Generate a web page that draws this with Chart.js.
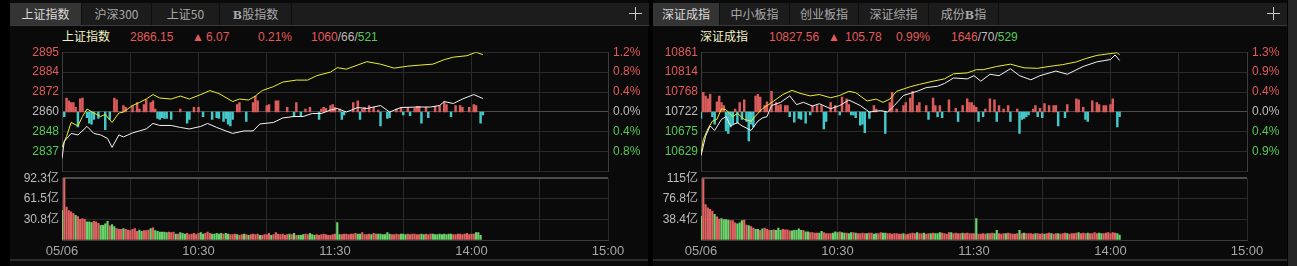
<!DOCTYPE html>
<html>
<head>
<meta charset="utf-8">
<script src="https://cdn.jsdelivr.net/npm/chart.js@4.4.1/dist/chart.umd.min.js"></script>
<style>
  body { margin: 0; width: 1297px; height: 266px; background: #000; overflow: hidden; position: relative;
         font-family: 'Liberation Sans', 'Noto Sans CJK SC', sans-serif; }
  .panel { position: absolute; top: 0; height: 266px; background: #0a0a0a; }
  .tabbar { position: absolute; top: 3px; height: 22px; background: #1c1c1c; border-bottom: 1px solid #3a3a3a; }
  .tab { position: absolute; top: 3px; height: 22px; line-height: 22px; text-align: center; color: #a9a9a9;
         font-size: 12px; font-family: 'Noto Sans CJK SC', sans-serif; border-right: 1px solid #0f0f0f; box-sizing: border-box; }
  .tab.on { background: #343434; color: #dadada; }
  .tab b { font-family: 'DejaVu Serif', serif; font-size: 11px; }
  .plus-h, .plus-v { position: absolute; background: #c8c8c8; }
  .hd { position: absolute; top: 30px; font-size: 12px; line-height: 14px; white-space: pre; }
  .bottomline { position: absolute; top: 259px; height: 2px; background: #2c2c2c; }
  canvas { position: absolute; }
</style>
</head>
<body>
<script>
// ---- shared time axis (minutes after 09:30, lunch removed) ----
const xTickMins = [0, 30, 60, 90, 120, 150, 180, 210, 240];
const xTickLabels = ['05/06', '', '10:30', '', '11:30', '', '14:00', '', '15:00'];

// ---- 上证指数 ----
const shTabs = ['上证指数', '沪深300', '上证50', 'B股指数'];
const shPctTicks = [1.2, 0.8, 0.4, 0, -0.4, -0.8, -1.2];
const shPriceLabels = ['2895', '2884', '2872', '2860', '2848', '2837', ''];
const shPctLabels = ['1.2%', '0.8%', '0.4%', '0.0%', '0.4%', '0.8%', ''];
const shVolTicks = [92.3, 61.5, 30.8, 0];
const shVolLabels = ['92.3亿', '61.5亿', '30.8亿', ''];
const shWhiteMin = [0,1,4,7,11,14,17,20,22,25,27,31,34,37,40,43,48,52,56,61,64,68,72,75,80,84,87,93,97,102,106,110,114,118,121,125,130,134,140,144,149,156,162,166,168,172,176,181,185];
const shWhitePct = [-0.93,-0.59,-0.43,-0.46,-0.29,-0.43,-0.46,-0.53,-0.71,-0.46,-0.50,-0.42,-0.38,-0.34,-0.23,-0.27,-0.27,-0.31,-0.34,-0.29,-0.23,-0.31,-0.38,-0.43,-0.38,-0.38,-0.24,-0.21,-0.12,-0.09,-0.09,-0.03,-0.03,0.04,0.07,0.00,0.09,0.07,0.13,0.00,0.09,0.10,0.10,0.13,0.21,0.17,0.26,0.35,0.27];
const shYellowMin = [0,2,4,7,9,11,14,17,19,22,25,27,31,34,37,40,43,48,52,56,61,65,69,75,78,82,85,88,93,97,103,108,112,118,121,125,131,134,140,146,152,157,163,168,172,178,182,185];
const shYellowPct = [-0.71,-0.49,-0.21,-0.28,-0.09,0.06,-0.02,-0.09,-0.05,-0.21,-0.02,0.00,0.13,0.19,0.26,0.35,0.28,0.26,0.32,0.26,0.35,0.43,0.37,0.21,0.26,0.24,0.32,0.43,0.51,0.60,0.64,0.64,0.73,0.80,0.89,0.86,0.96,1.01,0.96,0.88,0.92,0.94,0.96,1.05,1.10,1.13,1.20,1.15];
const shFlowMin = [1,2,3,4,5,6,7,8,9,11,12,13,14,16,19,21,23,24,27,28,31,33,34,36,37,39,40,41,42,43,44,45,46,48,52,55,56,58,60,62,66,68,69,71,72,73,74,75,77,78,81,84,85,86,90,91,94,95,99,102,103,105,107,109,113,114,115,116,118,119,120,122,123,124,128,130,131,132,133,135,137,139,140,143,144,147,149,150,152,153,155,156,157,158,160,161,164,166,168,169,171,173,175,176,179,181,182,184,185];
const shFlowVal = [-5,15,12,10,10,5,-16,14,15,-6,-12,-13,-8,-7,-19,-8,15,13,7,5,7,10,3,8,13,10,12,3,-7,-8,-6,-7,-7,-8,3,-12,-8,5,5,-5,-8,-6,-7,-10,-7,-13,-15,-8,8,10,-10,10,17,12,7,8,12,12,5,-5,10,-5,3,5,-8,3,5,4,7,8,5,3,-8,-3,10,12,-8,3,5,7,5,2,-15,-7,-6,3,5,-3,5,-4,4,6,6,-12,5,-6,6,7,11,8,-5,7,7,5,5,8,7,-12,-3];
const shVol = [44,92,49,44,42,40,37,35,31,32, 31,27,27,26,28,27,25,22,22,24, 28,21,23,20,17,16,16,17,16,15,
  14,16,17,13,15,13,14,14,15,17, 18,14,13,12,12,12,11,12,11,12, 9,9,11,10,9,10,8,9,10,8,
  10,11,9,10,12,10,9,9,10,9, 10,9,10,9,8,8,9,8,7,8, 9,8,7,8,9,8,9,7,7,8,
  8,10,7,8,11,9,8,9,7,8, 9,8,10,7,7,7,8,9,8,10, 8,7,8,7,8,9,8,7,7,8,
  9,26,8,8,9,9,8,9,9,10, 9,9,11,8,8,9,8,10,9,9, 9,8,8,11,9,8,8,9,8,9,
  9,8,9,8,9,9,8,8,9,8, 9,8,9,9,8,8,9,8,9,8, 9,9,8,8,9,9,8,9,10,8, 9,9,11,11,7];
const shVolDir = 'duuuuuduuu' + 'uddduuuddd' + 'dudduuuduu' + 'uuuudduuud' + 'udddddduuu' +
  'duddduuuuu' + 'udduuudddd' + 'dudduuuduu' + 'duduuuuduu' + 'uuduuuuuuu' + 'dududdduud' +
  'dduuuuuuuu' + 'udduuuuuuu' + 'dduuuuduud' + 'ddddduuuud' + 'dduuuuuudd' + 'uuuddddddd' +
  'dduuuuuuuu' + 'uuddd';

// ---- 深证成指 ----
const szTabs = ['深证成指', '中小板指', '创业板指', '深证综指', '成份B指'];
const szPctTicks = [1.3, 0.8667, 0.4333, 0, -0.4333, -0.8667, -1.3];
const szPriceLabels = ['10861', '10814', '10768', '10722', '10675', '10629', ''];
const szPctLabels = ['1.3%', '0.9%', '0.4%', '0.0%', '0.4%', '0.9%', ''];
const szVolTicks = [115.2, 76.8, 38.4, 0];
const szVolLabels = ['115亿', '76.8亿', '38.4亿', ''];
const szWhiteMin = [0,2,4,6,9,11,13,16,18,22,25,27,29,31,35,39,42,45,49,52,57,61,65,70,74,79,82,85,89,95,99,104,107,111,117,120,123,127,131,136,140,145,149,156,161,168,174,180,182,184];
const szWhitePct = [-0.95,-0.53,-0.30,-0.40,-0.16,-0.10,-0.30,-0.23,-0.30,-0.40,-0.20,-0.13,-0.10,0.14,0.21,0.35,0.16,0.21,0.13,0.18,0.07,0.14,0.26,0.14,0.00,0.03,0.00,0.14,0.36,0.45,0.53,0.56,0.62,0.74,0.72,0.79,0.67,0.82,0.79,0.94,0.79,0.70,0.79,0.89,0.82,0.99,1.09,1.14,1.24,1.12];
const szYellowMin = [0,1,3,5,7,9,11,14,16,19,22,25,27,32,36,40,44,48,52,57,61,65,68,73,77,80,83,86,92,96,102,107,111,117,121,124,130,136,142,148,153,159,165,169,174,180,183,184];
const szYellowPct = [-0.91,-0.60,-0.37,-0.20,-0.16,0.07,0.05,-0.10,-0.03,-0.16,-0.20,-0.03,0.07,0.24,0.38,0.47,0.40,0.35,0.38,0.31,0.36,0.45,0.42,0.24,0.28,0.21,0.28,0.45,0.55,0.60,0.67,0.72,0.83,0.85,0.92,0.92,0.99,1.04,0.96,0.95,0.99,1.03,1.09,1.16,1.23,1.27,1.29,1.24];
const szFlowMin = [0,1,2,3,4,5,6,7,8,9,10,11,12,13,14,15,16,17,18,19,20,21,22,23,24,25,26,28,29,31,33,34,35,37,38,39,41,43,44,46,48,49,51,53,54,55,57,59,61,62,64,65,66,67,68,70,71,72,74,76,77,81,83,84,86,89,90,92,93,95,96,99,100,102,103,104,105,106,109,112,113,115,117,118,119,120,121,122,124,125,127,129,130,131,133,135,136,139,140,141,142,143,144,146,147,148,149,150,151,153,155,156,157,160,161,165,166,168,169,170,172,174,175,177,178,180,181,183,184];
const szFlowVal = [-7,21,17,14,19,-5,-13,11,17,10,7,-20,-23,-16,-13,3,-12,10,-8,13,-10,-31,-13,-16,17,19,16,7,11,22,10,7,8,7,7,-5,-11,-7,-8,-12,-3,7,7,7,-18,-10,10,7,-3,16,14,8,-3,-3,-6,-14,-13,-22,-7,7,3,-23,10,21,3,7,10,15,22,7,10,7,-8,15,7,-5,7,-6,13,4,-10,7,14,10,10,7,5,-10,-5,3,14,13,-10,7,3,7,-10,3,-23,-8,-7,-5,-3,3,7,-5,4,-6,9,7,7,7,-15,-6,8,14,13,5,-8,-10,12,10,8,7,7,8,14,-16,-5];
const szVol = [44,114,66,60,57,54,48,43,39,40, 38,38,37,36,36,32,30,32,36,37, 28,27,25,22,20,20,18,21,22,20,
  18,18,19,18,22,18,20,19,19,17, 17,18,18,21,18,18,15,15,14,14, 13,13,13,16,14,12,12,12,13,15,
  14,15,14,13,13,12,14,14,13,12, 12,13,12,12,13,13,11,12,12,14, 13,13,12,12,11,12,12,11,11,12,
  10,11,12,13,12,14,12,12,13,11, 12,12,13,12,12,14,13,12,11,14, 14,12,13,12,12,13,12,13,12,12,
  12,40,11,11,12,11,12,12,13,12, 18,12,11,12,12,13,12,11,11,12, 18,12,13,12,12,12,11,12,12,11,
  12,11,12,13,12,11,12,12,11,12, 13,12,11,12,12,13,14,12,13,12, 13,12,12,14,12,13,12,12,13,14, 12,14,13,12,9];
const szVolDir = 'duuuuuduud' + 'ddduuudddu' + 'uduudduduu' + 'ududdduuuu' + 'dddddudduu' +
  'uudduuuudd' + 'dudduddudu' + 'uuuduudduu' + 'dduuuuuuud' + 'uuuuuduudu' + 'ududdduuuu' +
  'duuuuduuuu' + 'uduuuuduud' + 'duuuduuuuu' + 'duduuuuduu' + 'uduuduuduu' + 'uduuuuduuu' +
  'duuuudduuu' + 'uuudd';

// ---- colours ----
const RED_TXT = '#e25a5a', GREEN_TXT = '#55c955', GRAY_TXT = '#bdbdbd', X_TXT = '#a6a6a6';
const GRID = '#2a2a2a', AXIS = '#3c3c3c', ZERO = '#4c4c4c';
const FLOW_UP = '#dc5c5c', FLOW_DN = '#43c9c9', VOL_UP = '#e06262', VOL_DN = '#6bd56b';
const WHITE = '#f2f2f2', YELLOW = '#eeee2c';
const FONT = { family: "'Liberation Sans', 'Noto Sans CJK SC', sans-serif", size: 12 };

const PLOT_W = 546;

function el(tag, cls, css, html) {
  const e = document.createElement(tag);
  if (cls) e.className = cls;
  Object.assign(e.style, css);
  if (html != null) e.innerHTML = html;
  document.body.appendChild(e);
  return e;
}

function tabsRow(names, edges, plusX) {
  el('div', 'tabbar', { left: edges[0] + 'px', width: (plusX + 14 - edges[0]) + 'px' });
  names.forEach((n, i) => {
    el('div', 'tab' + (i === 0 ? ' on' : ''),
      { left: edges[i] + 'px', width: (edges[i + 1] - edges[i]) + 'px' },
      n.replace('B', '<b>B</b>'));
  });
  el('div', 'plus-h', { left: (plusX - 6) + 'px', top: '13px', width: '13px', height: '1px' });
  el('div', 'plus-v', { left: plusX + 'px', top: '7px', width: '1px', height: '13px' });
}

function header(items) {
  items.forEach(([x, txt, col]) => el('div', 'hd', { left: x + 'px', color: col }, txt));
}

function tickMap(vals, labels) {
  return new Map(vals.map((v, i) => [v, labels[i]]));
}

function pctColor(ctx) {
  const v = ctx.tick.value;
  return v > 0 ? RED_TXT : v < 0 ? GREEN_TXT : GRAY_TXT;
}

function buildPanel(p) {
  const W = p.axisW + PLOT_W + 40;
  const span = p.pctTicks[0];
  const priceLab = tickMap(p.pctTicks, p.priceLabels);
  const pctLab = tickMap(p.pctTicks, p.pctLabels);
  const volLab = tickMap(p.volTicks, p.volLabels);
  const xLab = tickMap(xTickMins, xTickLabels);
  const setTicks = (vals) => (s) => { s.ticks = vals.map((v) => ({ value: v })); };

  // price + flow bars
  const c1 = el('canvas', null, { left: p.left + 'px', top: '40px' });
  c1.width = W; c1.height = 144;
  new Chart(c1, {
    type: 'line',
    data: {
      datasets: [
        { data: p.whiteMin.map((m, i) => ({ x: m, y: p.whitePct[i] })), borderColor: WHITE,
          borderWidth: 1, pointRadius: 0, tension: 0, yAxisID: 'y', order: 0 },
        { data: p.yellowMin.map((m, i) => ({ x: m, y: p.yellowPct[i] })), borderColor: YELLOW,
          borderWidth: 1, pointRadius: 0, tension: 0, yAxisID: 'y', order: 1 },
        { type: 'bar', data: p.flowMin.map((m, i) => ({ x: m, y: p.flowVal[i] })),
          backgroundColor: p.flowVal.map((v) => (v >= 0 ? FLOW_UP : FLOW_DN)),
          barThickness: 1.8, yAxisID: 'yf', order: 2 },
      ],
    },
    options: {
      responsive: false, animation: false, events: [],
      layout: { padding: { top: 8, bottom: 8, left: 0, right: 0 } },
      plugins: { legend: { display: false }, tooltip: { enabled: false } },
      scales: {
        x: { type: 'linear', min: 0, max: 240, offset: false, afterBuildTicks: setTicks(xTickMins),
             afterFit: (s) => { s.height = 0; },
             ticks: { display: false }, grid: { color: GRID, drawTicks: false, offset: false },
             border: { display: false } },
        y: { position: 'left', min: -span, max: span, afterBuildTicks: setTicks(p.pctTicks),
             afterFit: (s) => { s.width = p.axisW; },
             ticks: { color: pctColor, font: FONT, padding: 3, callback: (v) => priceLab.get(v) },
             grid: { color: (c) => (c.tick.value === 0 ? ZERO : GRID), drawTicks: false },
             border: { color: AXIS } },
        yr: { position: 'right', min: -span, max: span, afterBuildTicks: setTicks(p.pctTicks),
              afterFit: (s) => { s.width = 40; },
              ticks: { color: pctColor, font: FONT, padding: 5, callback: (v) => pctLab.get(v) },
              grid: { display: false, drawTicks: false }, border: { color: AXIS } },
        yf: { display: false, min: -64, max: 64 },
      },
    },
  });

  // volume
  const c2 = el('canvas', null, { left: p.left + 'px', top: '168px' });
  c2.width = W; c2.height = 98;
  new Chart(c2, {
    type: 'bar',
    data: {
      datasets: [{ data: p.vol.map((v, i) => ({ x: i, y: v })),
        backgroundColor: p.vol.map((_, i) => (p.volDir[i] === 'u' ? VOL_UP : VOL_DN)),
        barThickness: 1.5 }],
    },
    options: {
      responsive: false, animation: false, events: [],
      layout: { padding: { top: 8, bottom: 6, left: 0, right: 40 } },
      plugins: { legend: { display: false }, tooltip: { enabled: false } },
      scales: {
        x: { type: 'linear', min: 0, max: 240, offset: false, afterBuildTicks: setTicks(xTickMins),
             afterFit: (s) => { s.height = 20; },
             ticks: { color: X_TXT, font: { ...FONT, size: 13 }, padding: 4, autoSkip: false, maxRotation: 0,
                      callback: (v) => xLab.get(v) },
             grid: { color: GRID, drawTicks: false, offset: false }, border: { color: AXIS } },
        y: { min: 0, max: p.volTicks[0], afterBuildTicks: setTicks(p.volTicks),
             afterFit: (s) => { s.width = p.axisW; },
             ticks: { color: GRAY_TXT, font: FONT, padding: 3, callback: (v) => volLab.get(v) },
             grid: { color: (c) => (c.tick.value === p.volTicks[0] ? ZERO : GRID),
                     lineWidth: (c) => (c.tick.value === p.volTicks[0] ? 2 : 1), drawTicks: false },
             border: { color: AXIS } },
      },
    },
  });
}

// ---- page frame ----
el('div', 'panel', { left: '10px', width: '638px' });
el('div', 'panel', { left: '653px', width: '634px' });
el('div', null, { position: 'absolute', left: '1288px', top: '0', width: '9px', height: '266px', background: '#262626' });
el('div', 'bottomline', { left: '10px', width: '638px' });
el('div', 'bottomline', { left: '653px', width: '634px' });

tabsRow(shTabs, [10, 82, 152, 220, 292], 635);
tabsRow(szTabs, [653, 720, 790, 859, 929, 999], 1273);

const cnt = (up, flat, down) =>
  `<span style="color:${RED_TXT}">${up}</span><span style="color:${GRAY_TXT}">/${flat}/</span>` +
  `<span style="color:${GREEN_TXT}">${down}</span>`;

header([[62, '上证指数', '#f3f1c8'], [130, '2866.15', RED_TXT], [192, '▲', RED_TXT], [206, '6.07', RED_TXT],
        [258, '0.21%', RED_TXT], [311, cnt('1060', '66', '521'), RED_TXT]]);
header([[700, '深证成指', '#f3f1c8'], [769, '10827.56', RED_TXT], [828, '▲', RED_TXT], [845, '105.78', RED_TXT],
        [896, '0.99%', RED_TXT], [951, cnt('1646', '70', '529'), RED_TXT]]);

if (window.Chart) {
  buildPanel({ left: 10, axisW: 52, pctTicks: shPctTicks, priceLabels: shPriceLabels, pctLabels: shPctLabels,
    volTicks: shVolTicks, volLabels: shVolLabels, whiteMin: shWhiteMin, whitePct: shWhitePct,
    yellowMin: shYellowMin, yellowPct: shYellowPct, flowMin: shFlowMin, flowVal: shFlowVal,
    vol: shVol, volDir: shVolDir });
  buildPanel({ left: 653, axisW: 48, pctTicks: szPctTicks, priceLabels: szPriceLabels, pctLabels: szPctLabels,
    volTicks: szVolTicks, volLabels: szVolLabels, whiteMin: szWhiteMin, whitePct: szWhitePct,
    yellowMin: szYellowMin, yellowPct: szYellowPct, flowMin: szFlowMin, flowVal: szFlowVal,
    vol: szVol, volDir: szVolDir });
}
</script>
</body>
</html>
